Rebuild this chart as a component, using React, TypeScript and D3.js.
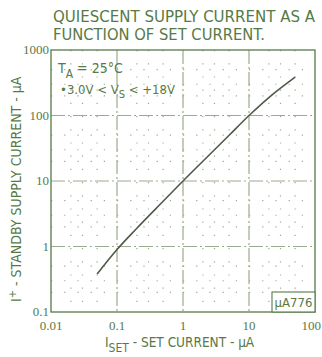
import React from 'react';
import * as d3 from 'd3';

const setCurrent = [0.05, 0.1, 0.2, 0.5, 1, 2, 5, 10, 20, 50];
const supplyCurrent = [0.38, 0.9, 1.9, 4.9, 10, 20, 50, 100, 188, 385];
const xTicks = [0.01, 0.1, 1, 10, 100];
const yTicks = [0.1, 1, 10, 100, 1000];
const xTickLabels = ['0.01', '0.1', '1', '10', '100'];
const yTickLabels = ['0.1', '1', '10', '100', '1000'];

const ink = '#577a45';
const gridInk = '#9aab8e';

const App = () => {
    const width = 322;
    const height = 357;
    const x = d3.scaleLog().domain([0.01, 100]).range([51, 315]);
    const y = d3.scaleLog().domain([0.1, 1000]).range([312, 50]);

    const line = d3
        .line<number>()
        .x((d, i) => x(setCurrent[i]))
        .y(d => y(d))
        .curve(d3.curveMonotoneX);

    // minor grid positions, drawn as dotted lines like the data sheet
    const minorX: number[] = [];
    xTicks.slice(0, -1).forEach(t => [2, 3, 5].forEach(m => minorX.push(t * m)));
    const minorY: number[] = [];
    yTicks.slice(0, -1).forEach(t => [2, 3, 5].forEach(m => minorY.push(t * m)));

    const serif = '"Liberation Serif", serif';
    const sans = '"DejaVu Sans Condensed", "Liberation Sans Narrow", sans-serif';

    return (
        <svg width={width} height={height} style={{ display: 'block', position: 'absolute', left: 0, top: 0, background: '#fff' }}>
            <g fill={ink} fontFamily={sans}>
                <text x={53} y={22} fontSize={15} textLength={262} lengthAdjust="spacingAndGlyphs">QUIESCENT SUPPLY CURRENT AS A</text>
                <text x={53} y={40} fontSize={15} textLength={212} lengthAdjust="spacingAndGlyphs">FUNCTION OF SET CURRENT.</text>
            </g>

            {minorX.map((v, i) => (
                <line key={'mx' + i} x1={x(v)} x2={x(v)} y1={y(1000)} y2={y(0.1)}
                    stroke={gridInk} strokeWidth={1.2} strokeDasharray="1.2 12" />
            ))}
            {minorY.map((v, i) => (
                <line key={'my' + i} x1={x(0.01)} x2={x(100)} y1={y(v)} y2={y(v)}
                    stroke={gridInk} strokeWidth={1.2} strokeDasharray="1.2 12" />
            ))}
            {xTicks.slice(1, -1).map((v, i) => (
                <line key={'gx' + i} x1={x(v)} x2={x(v)} y1={y(1000)} y2={y(0.1)}
                    stroke={gridInk} strokeWidth={1.2} strokeDasharray="14 3 2 3" />
            ))}
            {yTicks.slice(1, -1).map((v, i) => (
                <line key={'gy' + i} x1={x(0.01)} x2={x(100)} y1={y(v)} y2={y(v)}
                    stroke={gridInk} strokeWidth={1.2} strokeDasharray="14 3 2 3" />
            ))}

            <rect x={x(0.01)} y={y(1000)} width={x(100) - x(0.01)} height={y(0.1) - y(1000)}
                fill="none" stroke={ink} strokeWidth={1.3} />

            <path d={line(supplyCurrent) || ''} fill="none" stroke="#4f5a48" strokeWidth={1.6} />

            <g fill={ink} fontFamily={serif} fontSize={13}>
                {yTicks.map((v, i) => (
                    <text key={'yt' + i} x={x(0.01) - 2} y={y(v) + 4} textAnchor="end">{yTickLabels[i]}</text>
                ))}
                {xTicks.map((v, i) => (
                    <text key={'xt' + i} x={i === xTicks.length - 1 ? 321 : x(v)} y={330}
                        textAnchor={i === xTicks.length - 1 ? 'end' : 'middle'}>{xTickLabels[i]}</text>
                ))}
            </g>

            <g fill={ink} fontFamily={sans} fontSize={13}>
                <text x={58} y={73} fontSize={14}>
                    T<tspan dy={5} fontSize={12}>A</tspan><tspan dy={-5}> = 25°C</tspan>
                </text>
                <text x={60} y={94} fontSize={13}>
                    •3.0V &lt; V<tspan dy={4} fontSize={11}>S</tspan><tspan dy={-4}> &lt; +18V</tspan>
                </text>
                <text x={105} y={347} fontSize={13.5}>
                    I<tspan dy={5} fontSize={12}>SET</tspan><tspan dy={-5}> - SET CURRENT - μA</tspan>
                </text>
                <text transform="translate(21,302) rotate(-90)" fontSize={14}>
                    I<tspan dy={-5} fontSize={11}>+</tspan><tspan dy={5}> - STANDBY SUPPLY CURRENT - μA</tspan>
                </text>
                <rect x={272} y={292} width={43} height={20} fill="#fff" stroke={ink} strokeWidth={1.1} />
                <text x={293.5} y={307} textAnchor="middle" fontSize={13}>μA776</text>
            </g>
        </svg>
    );
};

export default App;
